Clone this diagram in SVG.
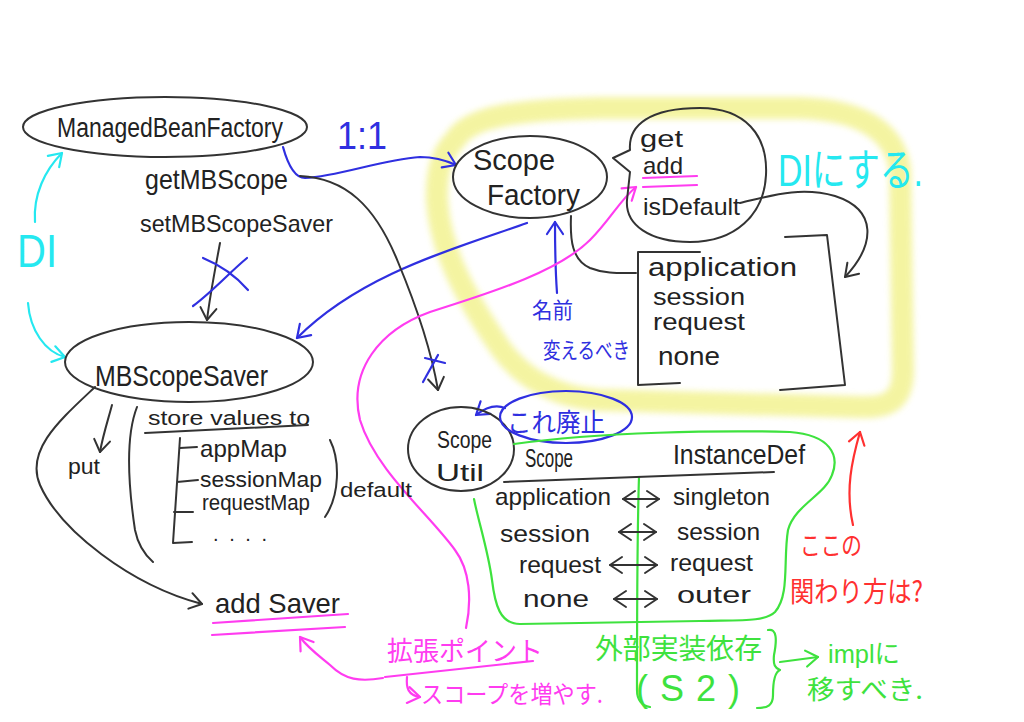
<svg xmlns="http://www.w3.org/2000/svg" width="1024" height="722" viewBox="0 0 1024 722">
<style>
text{font-family:"Liberation Sans","Noto Sans CJK JP",sans-serif;fill:#222}
.jp{font-family:"Noto Sans CJK JP",sans-serif}
.ln{fill:none;stroke:#333;stroke-width:2;stroke-linecap:round;stroke-linejoin:round}
.bl{fill:none;stroke:#2f2fe0;stroke-width:2.2;stroke-linecap:round;stroke-linejoin:round}
.cy{fill:none;stroke:#25e8f0;stroke-width:2.2;stroke-linecap:round;stroke-linejoin:round}
.mg{fill:none;stroke:#ff3cf0;stroke-width:2.2;stroke-linecap:round;stroke-linejoin:round}
.gr{fill:none;stroke:#3ee23e;stroke-width:2.2;stroke-linecap:round;stroke-linejoin:round}
.rd{fill:none;stroke:#ff3030;stroke-width:2.2;stroke-linecap:round;stroke-linejoin:round}
.tb{fill:#2f2fe0}.tc{fill:#25e8f0}.tm{fill:#ff3cf0}.tg{fill:#3ee23e}.tr{fill:#ff3030}
</style>
<defs>
<filter id="blur" x="-10%" y="-10%" width="120%" height="120%"><feGaussianBlur stdDeviation="3"/></filter>
<marker id="ak" markerUnits="userSpaceOnUse" markerWidth="20" markerHeight="20" refX="13" refY="8" orient="auto-start-reverse" overflow="visible"><path d="M1,0 L13,8 L1,16" fill="none" stroke="#333" stroke-width="2" stroke-linecap="round" stroke-linejoin="round"/></marker>
<marker id="ab" markerUnits="userSpaceOnUse" markerWidth="20" markerHeight="20" refX="13" refY="8" orient="auto" overflow="visible"><path d="M1,0 L13,8 L1,16" fill="none" stroke="#2f2fe0" stroke-width="2.2" stroke-linecap="round" stroke-linejoin="round"/></marker>
<marker id="ac" markerUnits="userSpaceOnUse" markerWidth="20" markerHeight="20" refX="13" refY="8" orient="auto" overflow="visible"><path d="M1,0 L13,8 L1,16" fill="none" stroke="#25e8f0" stroke-width="2.2" stroke-linecap="round" stroke-linejoin="round"/></marker>
<marker id="am" markerUnits="userSpaceOnUse" markerWidth="20" markerHeight="20" refX="13" refY="8" orient="auto" overflow="visible"><path d="M1,0 L13,8 L1,16" fill="none" stroke="#ff3cf0" stroke-width="2.2" stroke-linecap="round" stroke-linejoin="round"/></marker>
<marker id="ag" markerUnits="userSpaceOnUse" markerWidth="20" markerHeight="20" refX="13" refY="8" orient="auto" overflow="visible"><path d="M1,0 L13,8 L1,16" fill="none" stroke="#3ee23e" stroke-width="2.2" stroke-linecap="round" stroke-linejoin="round"/></marker>
<marker id="ar" markerUnits="userSpaceOnUse" markerWidth="20" markerHeight="20" refX="13" refY="8" orient="auto" overflow="visible"><path d="M1,0 L13,8 L1,16" fill="none" stroke="#ff3030" stroke-width="2.2" stroke-linecap="round" stroke-linejoin="round"/></marker>
</defs>
<rect width="1024" height="722" fill="#fff"/>

<g id="highlight">
<path d="M455,140 C470,115 520,110 600,108 L800,108 C860,110 895,130 900,170 L903,370 C903,400 890,408 860,407 L600,400 C560,398 520,380 495,340 C465,295 440,250 437,200 C436,165 445,150 455,140 Z" fill="none" stroke="#f0f07a" stroke-width="22" opacity="0.7" filter="url(#blur)"/>
</g>

<g id="connectors">
<path class="cy" d="M35,222 C33,195 45,170 62,153" marker-end="url(#ac)"/>
<path class="cy" d="M28,303 C30,330 45,352 65,357" marker-end="url(#ac)"/>
<path class="ln" d="M220,243 C215,270 210,295 207,320" marker-end="url(#ak)"/>
<path class="bl" d="M203,258 C220,265 235,275 248,290"/>
<path class="bl" d="M247,258 C230,272 212,292 193,306"/>
<path class="bl" d="M527,223 C450,250 360,275 297,338" marker-end="url(#ab)"/>
<path class="bl" d="M283,147 C288,165 295,178 305,178 C340,176 380,160 420,157 C435,157 445,160 456,165" marker-end="url(#ab)"/>
<path class="ln" d="M300,176 C345,178 375,205 398,262 C418,310 432,355 438,390" marker-end="url(#ak)"/>
<path class="bl" d="M425,358 L445,363"/>
<path class="bl" d="M438,355 L423,382"/>
<path class="ln" d="M740,203 C770,196 800,186 835,196 C878,210 875,245 845,277" marker-end="url(#ak)"/>
<path class="ln" d="M571,216 C570,240 572,260 590,268 C605,274 620,273 636,273"/>
<path class="bl" d="M557,293 C555,265 555,240 555,222" marker-end="url(#ab)"/>
<path class="mg" d="M466,628 C472,600 470,570 455,550 C430,515 375,470 360,420 C348,370 380,330 430,312 C500,290 560,270 590,240 C610,220 620,200 636,187" marker-end="url(#am)"/>
<path class="ln" d="M112,405 C108,420 103,435 100,452" marker-end="url(#ak)"/>
<path class="ln" d="M95,387 C60,420 25,450 40,485 C60,530 130,585 202,604" marker-end="url(#ak)"/>
<path class="bl" d="M505,408 C495,404 485,408 476,415" marker-end="url(#ab)"/>
<path class="rd" d="M853,525 C845,490 852,460 860,432" marker-end="url(#ar)"/>
<path class="mg" d="M383,678 C360,682 345,680 330,665 C318,655 308,648 300,637" marker-end="url(#am)"/>
<path class="mg" d="M407,677 C406,688 408,695 420,697" marker-end="url(#am)"/>
<path class="gr" d="M780,662 L818,657" marker-end="url(#ag)"/>
</g>

<g id="ManagedBeanFactory">
<ellipse class="ln" cx="165" cy="127" rx="142" ry="30"/>
<text x="57" y="137" font-size="27" textLength="226" lengthAdjust="spacingAndGlyphs">ManagedBeanFactory</text>
<text x="145" y="189" font-size="28" textLength="143" lengthAdjust="spacingAndGlyphs">getMBScope</text>
<text x="140" y="232" font-size="24" textLength="193" lengthAdjust="spacingAndGlyphs">setMBScopeSaver</text>
</g>

<g id="label-1to1"><text class="tb" x="337" y="149" font-size="38" textLength="50" lengthAdjust="spacingAndGlyphs">1:1</text></g>
<g id="label-DI"><text class="tc" x="17" y="267" font-size="46" textLength="40" lengthAdjust="spacingAndGlyphs">DI</text></g>

<g id="ScopeFactory">
<ellipse class="ln" cx="530" cy="177" rx="77" ry="41"/>
<text x="473" y="170" font-size="30" textLength="82" lengthAdjust="spacingAndGlyphs">Scope</text>
<text x="487" y="205" font-size="30" textLength="93" lengthAdjust="spacingAndGlyphs">Factory</text>
</g>

<g id="ScopeFactoryMethods">
<path class="ln" d="M630,150 C628,125 650,108 700,108 C745,108 768,135 766,175 C764,215 735,242 690,242 C650,242 625,225 627,200 L630,172 L613,158 L630,150 Z"/>
<text x="640" y="147" font-size="24" textLength="43" lengthAdjust="spacingAndGlyphs">get</text>
<text x="643" y="174" font-size="24" textLength="40" lengthAdjust="spacingAndGlyphs">add</text>
<path class="mg" d="M643,178 L697,176 M643,187 L697,185"/>
<text x="643" y="215" font-size="24" textLength="97" lengthAdjust="spacingAndGlyphs">isDefault</text>
</g>

<g id="label-DI-suru"><text class="tc" x="778" y="186" font-size="44" textLength="145" lengthAdjust="spacingAndGlyphs">DIにする.</text></g>

<g id="ScopeList">
<path class="ln" d="M700,252 L638,252 L638,385 L680,383"/>
<path class="ln" d="M785,237 L827,235 L845,385 L780,390"/>
<text x="648" y="276" font-size="25" textLength="149" lengthAdjust="spacingAndGlyphs">application</text>
<text x="653" y="305" font-size="23" textLength="92" lengthAdjust="spacingAndGlyphs">session</text>
<text x="653" y="330" font-size="23" textLength="92" lengthAdjust="spacingAndGlyphs">request</text>
<text x="658" y="365" font-size="25" textLength="62" lengthAdjust="spacingAndGlyphs">none</text>
</g>

<g id="label-rename">
<text class="tb jp" x="532" y="318" font-size="22" textLength="41" lengthAdjust="spacingAndGlyphs">名前</text>
<text class="tb jp" x="543" y="358" font-size="22" textLength="87" lengthAdjust="spacingAndGlyphs">変えるべき</text>
</g>

<g id="MBScopeSaver">
<ellipse class="ln" cx="189" cy="362" rx="124" ry="40"/>
<text x="95" y="386" font-size="30" textLength="173" lengthAdjust="spacingAndGlyphs">MBScopeSaver</text>
<text x="68" y="474" font-size="22" textLength="32" lengthAdjust="spacingAndGlyphs">put</text>
<path class="ln" d="M137,407 C128,430 126,470 135,530 C138,545 145,555 153,562"/>
<text x="148" y="425" font-size="20" textLength="162" lengthAdjust="spacingAndGlyphs">store values to</text>
<path class="ln" d="M145,433 L308,425"/>
<path class="ln" d="M180,438 L173,543 L192,542 M180,448 L197,447 M177,482 L198,480 M174,512 L193,512"/>
<text x="200" y="457" font-size="24" textLength="87" lengthAdjust="spacingAndGlyphs">appMap</text>
<text x="200" y="487" font-size="22" textLength="122" lengthAdjust="spacingAndGlyphs">sessionMap</text>
<text x="202" y="510" font-size="22" textLength="108" lengthAdjust="spacingAndGlyphs">requestMap</text>
<text x="213" y="541" font-size="20" textLength="54" lengthAdjust="spacing">....</text>
<path class="ln" d="M330,440 C340,460 340,495 325,517"/>
<text x="340" y="497" font-size="20" textLength="72" lengthAdjust="spacingAndGlyphs">default</text>
</g>

<g id="addSaver">
<text x="215" y="613" font-size="28" textLength="125" lengthAdjust="spacingAndGlyphs">add Saver</text>
<path class="mg" d="M213,623 L348,614 M212,635 L345,627"/>
</g>

<g id="ScopeUtil">
<ellipse class="ln" cx="461" cy="449" rx="53" ry="42"/>
<text x="437" y="448" font-size="24" textLength="55" lengthAdjust="spacingAndGlyphs">Scope</text>
<text x="436" y="481" font-size="24" textLength="48" lengthAdjust="spacingAndGlyphs">Util</text>
</g>

<g id="label-haishi">
<ellipse class="bl" cx="566" cy="417" rx="66" ry="26"/>
<text class="tb jp" x="507" y="432" font-size="26" textLength="98" lengthAdjust="spacingAndGlyphs">これ廃止</text>
</g>

<g id="ScopeTable">
<path class="gr" d="M514,444 C600,432 720,430 790,432 C830,435 840,455 832,475 C825,495 795,505 788,530 C783,560 790,595 775,612 C765,622 740,620 700,621 L520,624 C500,624 495,605 492,580 C488,550 478,520 474,499"/>
<path class="gr" d="M639,477 C637,540 637,620 637,690 C637,700 642,706 650,707"/>
<text x="525" y="467" font-size="26" textLength="48" lengthAdjust="spacingAndGlyphs">Scope</text>
<text x="673" y="464" font-size="28" textLength="132" lengthAdjust="spacingAndGlyphs">InstanceDef</text>
<path class="ln" d="M504,482 C600,478 700,474 774,472"/>
<text x="495" y="505" font-size="24" textLength="116" lengthAdjust="spacingAndGlyphs">application</text>
<text x="673" y="505" font-size="24" textLength="97" lengthAdjust="spacingAndGlyphs">singleton</text>
<text x="500" y="542" font-size="24" textLength="90" lengthAdjust="spacingAndGlyphs">session</text>
<text x="677" y="540" font-size="24" textLength="83" lengthAdjust="spacingAndGlyphs">session</text>
<text x="519" y="573" font-size="24" textLength="82" lengthAdjust="spacingAndGlyphs">request</text>
<text x="670" y="571" font-size="24" textLength="83" lengthAdjust="spacingAndGlyphs">request</text>
<text x="523" y="607" font-size="24" textLength="66" lengthAdjust="spacingAndGlyphs">none</text>
<text x="677" y="603" font-size="24" textLength="74" lengthAdjust="spacingAndGlyphs">outer</text>
<path class="ln" d="M623,499 L659,499" marker-start="url(#ak)" marker-end="url(#ak)"/>
<path class="ln" d="M619,532 L656,532" marker-start="url(#ak)" marker-end="url(#ak)"/>
<path class="ln" d="M610,565 L657,565" marker-start="url(#ak)" marker-end="url(#ak)"/>
<path class="ln" d="M614,599 L657,599" marker-start="url(#ak)" marker-end="url(#ak)"/>
</g>

<g id="label-relation">
<text class="tr jp" x="800" y="555" font-size="26" textLength="62" lengthAdjust="spacingAndGlyphs">ここの</text>
<text class="tr jp" x="790" y="602" font-size="28" textLength="133" lengthAdjust="spacingAndGlyphs">関わり方は?</text>
</g>

<g id="label-extension">
<text class="tm jp" x="387" y="661" font-size="27" textLength="156" lengthAdjust="spacingAndGlyphs">拡張ポイント</text>
<path class="mg" d="M385,677 L533,661"/>
<text class="tm jp" x="421" y="703" font-size="24" textLength="182" lengthAdjust="spacingAndGlyphs">スコープを増やす.</text>
</g>

<g id="label-external">
<text class="tg jp" x="595" y="659" font-size="28" textLength="167" lengthAdjust="spacingAndGlyphs">外部実装依存</text>
<text class="tg" x="636" y="701" font-size="36" textLength="104" lengthAdjust="spacing">(S2)</text>
<path class="gr" d="M768,630 C777,628 777,640 774,655 C773,665 775,668 780,670 C775,672 773,680 773,695 C773,705 768,708 757,708"/>
<text class="tg" x="828" y="663" font-size="26" textLength="72" lengthAdjust="spacingAndGlyphs">implに</text>
<text class="tg jp" x="807" y="699" font-size="26" textLength="116" lengthAdjust="spacingAndGlyphs">移すべき.</text>
</g>
</svg>
